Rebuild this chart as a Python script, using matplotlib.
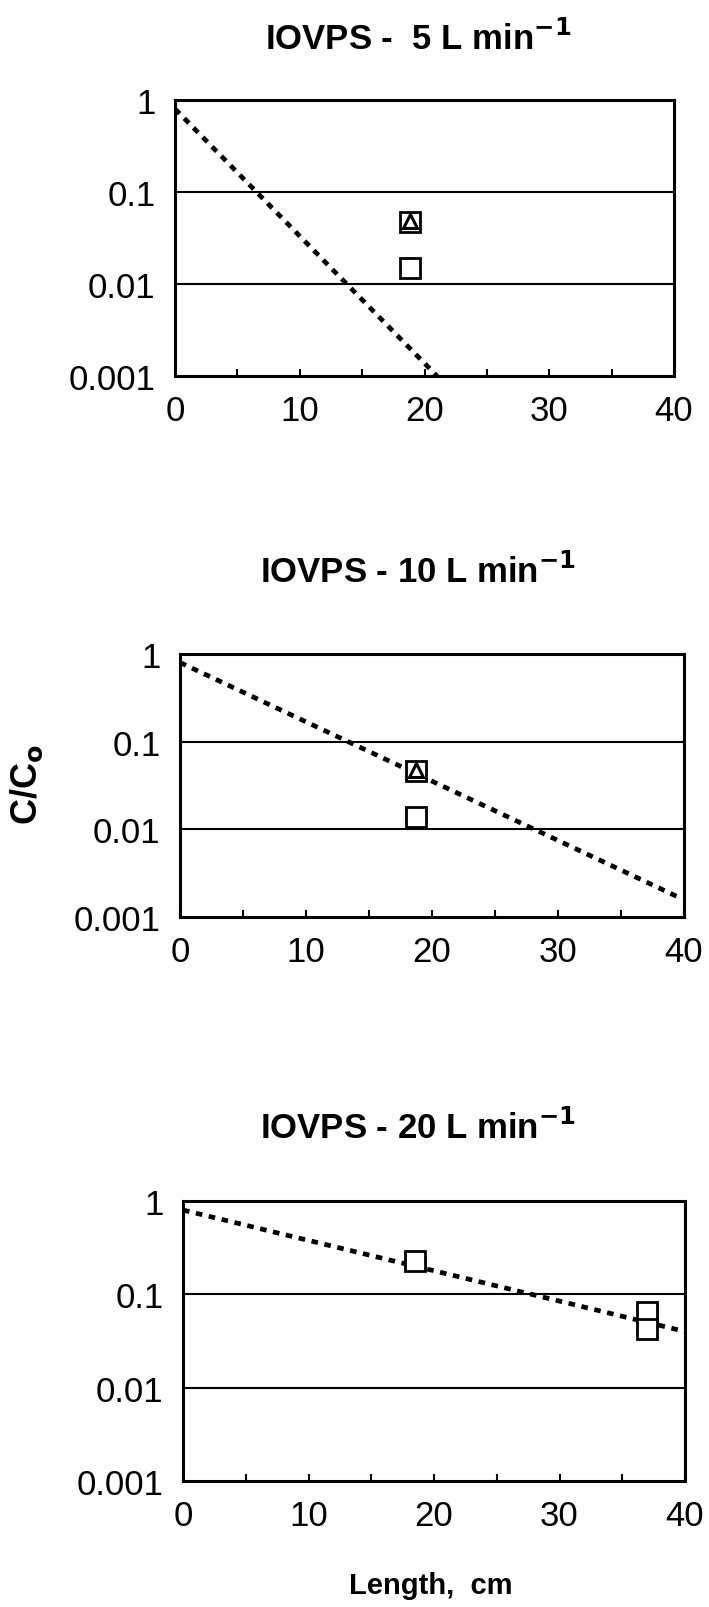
import matplotlib
matplotlib.use("Agg")
import matplotlib.pyplot as plt
from matplotlib.ticker import FixedLocator, NullLocator, FixedFormatter

plt.rcParams['font.family'] = ['Liberation Sans', 'DejaVu Sans']

titles = ["IOVPS -  5 L min$^{\\mathbf{-1}}$",
          "IOVPS - 10 L min$^{\\mathbf{-1}}$",
          "IOVPS - 20 L min$^{\\mathbf{-1}}$"]

# model lines (end points, straight on log axis)
line_x = [[0, 21.0], [0, 39.5], [0, 40.0]]
line_y = [[0.8, 0.001], [0.8, 0.0017], [0.8, 0.04]]

# measured points
sq_x = [[18.8, 18.8], [18.7, 18.7], [18.5, 37.0, 37.0]]
sq_y = [[0.047, 0.015], [0.046, 0.014], [0.23, 0.065, 0.043]]
tri_x = [[18.8], [18.7], []]
tri_y = [[0.048], [0.048], []]

yticks = [0.001, 0.01, 0.1, 1]
ylabels = ["0.001", "0.01", "0.1", "1"]
xticks = [0, 10, 20, 30, 40]

W, H = 709, 1608
fig = plt.figure(figsize=(W / 100, H / 100), dpi=100)

# axes boxes in pixels: left, right, top, bottom
boxes = [(175, 674, 101, 377), (180, 684, 655, 918), (183, 685, 1202, 1482)]
title_y = [39, 572, 1128]

for i in range(3):
    l, r, t, b = boxes[i]
    ax = fig.add_axes([l / W, 1 - b / H, (r - l) / W, (b - t) / H])
    ax.set_yscale('log')
    ax.set_ylim(0.001, 1)
    ax.set_xlim(0, 40)
    for y in [0.01, 0.1]:
        ax.axhline(y, color='black', lw=1.5, zorder=1)
    ax.plot(line_x[i], line_y[i], color='black', lw=3.4,
            linestyle=(0, (1.4, 1.4)), zorder=2)
    ax.plot(sq_x[i], sq_y[i], linestyle='none', marker='s', ms=14,
            mfc='white', mec='black', mew=2.0, zorder=3)
    if tri_x[i]:
        ax.plot(tri_x[i], tri_y[i], linestyle='none', marker='^', ms=10,
                mfc='white', mec='black', mew=2.2, zorder=4)
    ax.yaxis.set_major_locator(FixedLocator(yticks))
    ax.yaxis.set_major_formatter(FixedFormatter(ylabels))
    ax.yaxis.set_minor_locator(NullLocator())
    ax.set_xticks(xticks)
    ax.set_xticks([5, 15, 25, 35], minor=True)
    ax.tick_params(axis='y', length=0, pad=14, labelsize=25)
    ax.tick_params(axis='x', which='both', direction='in', length=5,
                   width=1.5, pad=13, labelsize=25)
    for s in ax.spines.values():
        s.set_linewidth(2.2)
    fig.text(418 / W, 1 - title_y[i] / H, titles[i], ha='center', va='center',
             fontsize=25, fontweight='bold')

fig.text(27 / W, 1 - 785 / H, "C/C$_\\mathbf{o}$", rotation=90, ha='center',
         va='center', fontsize=26, fontweight='bold')
fig.text(431 / W, 1 - 1586 / H, "Length,  cm", ha='center', va='center',
         fontsize=21, fontweight='bold')

fig.savefig("out.png", dpi=100)
